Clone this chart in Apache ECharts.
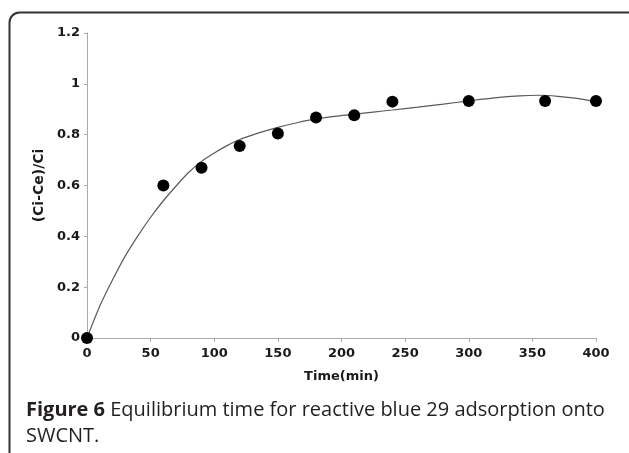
<!DOCTYPE html>
<html>
<head>
<meta charset="utf-8">
<script src="https://cdn.jsdelivr.net/npm/echarts@6/dist/echarts.min.js"></script>
<style>
html,body{margin:0;padding:0;background:#fff;}
#chart{width:629px;height:453px;}
</style>
</head>
<body>
<div id="chart"></div>
<script>
// Measured data points: time (min) and (Ci-Ce)/Ci
var times = [0, 60, 90, 120, 150, 180, 210, 240, 300, 360, 400];
var ratios = [0, 0.60, 0.67, 0.755, 0.805, 0.868, 0.876, 0.93, 0.932, 0.932, 0.932];

// Fitted curve
var fitTimes = [0, 10, 20, 30, 40, 50, 60, 70, 80, 90, 100, 110, 120, 135, 150, 165, 180, 195, 210, 225, 240, 260, 280, 300, 320, 340, 355, 370, 385, 400];
var fitValues = [0, 0.125, 0.228, 0.322, 0.402, 0.475, 0.54, 0.598, 0.652, 0.695, 0.728, 0.757, 0.781, 0.807, 0.829, 0.847, 0.862, 0.872, 0.88, 0.889, 0.897, 0.908, 0.92, 0.933, 0.945, 0.953, 0.955, 0.951, 0.943, 0.93];

// Axis ticks
var xTicks = [0, 50, 100, 150, 200, 250, 300, 350, 400];
var yTicks = [0, 0.2, 0.4, 0.6, 0.8, 1, 1.2];

var captionBold = 'Figure 6';
var captionRest = ' Equilibrium time for reactive blue 29 adsorption onto';
var captionLine2 = 'SWCNT.';

var chart = echarts.init(document.getElementById('chart'), null, {renderer: 'canvas'});

var axisFont = {fontFamily: 'DejaVu Sans', fontWeight: 'bold', fontSize: 13, color: '#1a1a1a'};

chart.setOption({
  animation: false,
  backgroundColor: '#fff',
  grid: {left: 87, right: 33, top: 33, bottom: 115, containLabel: false},
  xAxis: {
    type: 'value',
    min: xTicks[0], max: xTicks[xTicks.length - 1], interval: 50,
    name: 'Time(min)', nameLocation: 'middle', nameGap: 32,
    nameTextStyle: {fontFamily: 'DejaVu Sans', fontWeight: 'bold', fontSize: 13, color: '#1a1a1a'},
    axisLine: {lineStyle: {color: '#aaa', width: 1}},
    axisTick: {show: true, length: 4, lineStyle: {color: '#aaa'}},
    axisLabel: Object.assign({margin: 9}, axisFont),
    splitLine: {show: false}
  },
  yAxis: {
    type: 'value',
    min: yTicks[0], max: yTicks[yTicks.length - 1], interval: 0.2,
    name: '(Ci-Ce)/Ci', nameLocation: 'middle', nameGap: 39, nameRotate: 90,
    nameTextStyle: {fontFamily: 'DejaVu Sans', fontWeight: 'bold', fontSize: 14, color: '#1a1a1a'},
    axisLine: {show: true, lineStyle: {color: '#aaa', width: 1}},
    axisTick: {show: true, length: 3, lineStyle: {color: '#aaa'}},
    axisLabel: Object.assign({margin: 7, formatter: function (v) { return String(Math.round(v * 10) / 10); }}, axisFont),
    splitLine: {show: false}
  },
  series: [
    {
      type: 'line',
      data: fitTimes.map(function (t, i) { return [t, fitValues[i]]; }),
      smooth: 0.3,
      showSymbol: false,
      lineStyle: {color: '#5a5a5a', width: 1.2},
      z: 2
    },
    {
      type: 'scatter',
      data: times.map(function (t, i) { return [t, ratios[i]]; }),
      symbol: 'circle',
      symbolSize: 12,
      itemStyle: {color: '#000', opacity: 1},
      z: 3
    }
  ],
  graphic: [
    {
      type: 'rect',
      shape: {x: 9.5, y: 12.5, width: 640, height: 470, r: 10},
      style: {fill: 'none', stroke: '#333', lineWidth: 2},
      z: 0, silent: true
    },
    {
      type: 'text',
      left: 26, top: 400,
      style: {
        rich: {
          b: {fontFamily: 'Open Sans', fontWeight: 'bold', fontSize: 20, fill: '#231f20'},
          r: {fontFamily: 'Open Sans', fontWeight: 500, fontSize: 20, fill: '#231f20'}
        },
        text: '{b|' + captionBold + '}{r|' + captionRest + '}'
      },
      z: 5
    },
    {
      type: 'text',
      left: 26, top: 426,
      style: {
        text: captionLine2,
        fontFamily: 'Open Sans', fontWeight: 500, fontSize: 20, fill: '#231f20'
      },
      z: 5
    }
  ]
});
</script>
</body>
</html>
